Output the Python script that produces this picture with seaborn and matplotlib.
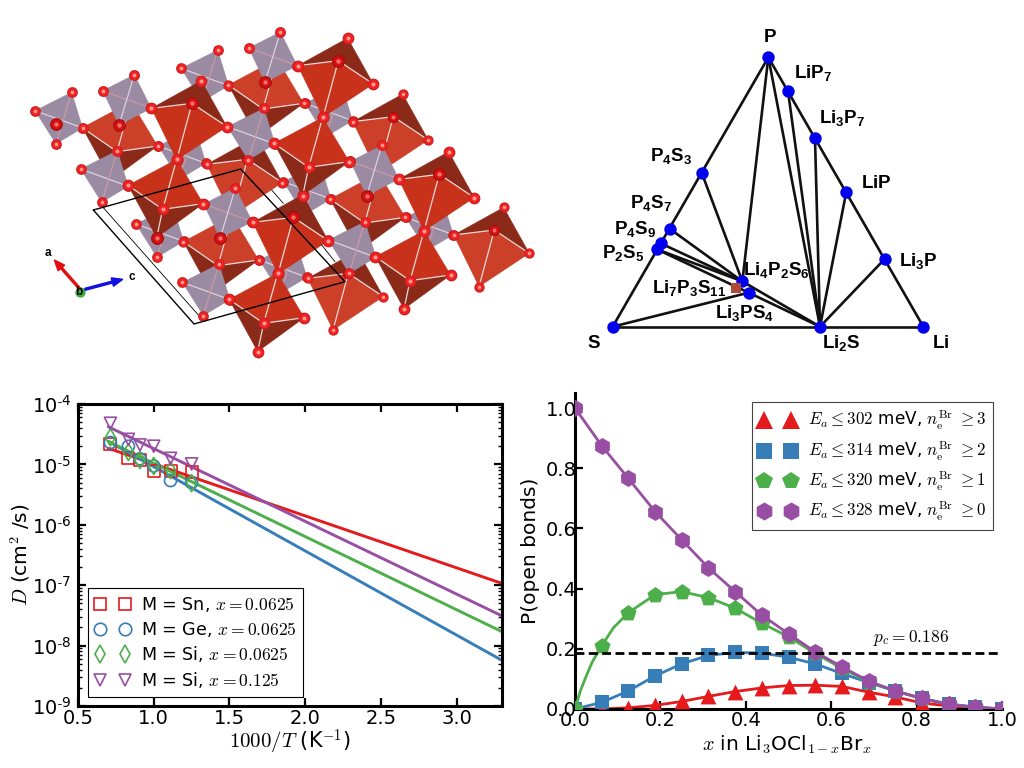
import numpy as np
import matplotlib
matplotlib.use("Agg")
import matplotlib.pyplot as plt
from matplotlib.lines import Line2D
from matplotlib.patches import Polygon, FancyArrow
from matplotlib.ticker import LogLocator, NullFormatter
import seaborn as sns

# ---------- data: diffusivity panel ----------
inv_T = [0.714, 0.833, 0.909, 1.0, 1.111, 1.25]
fit_x = [0.7, 3.3]
d_sn = [2.2e-5, 1.3e-5, 1.18e-5, 7.9e-6, 7.9e-6, 7.4e-6]
d_ge = [2.3e-5, 2.0e-5, 1.24e-5, 9.4e-6, 5.4e-6, 5.0e-6]
d_si = [2.8e-5, 1.6e-5, 1.18e-5, 9.4e-6, 8.0e-6, 4.9e-6]
d_si2 = [4.8e-5, 2.6e-5, 2.1e-5, 2.0e-5, 1.26e-5, 1.02e-5]
fit_sn = [1.85e-5, 1.07e-7]
fit_ge = [2.4e-5, 5.7e-9]
fit_si = [2.4e-5, 1.7e-8]
fit_si2 = [4.2e-5, 3.1e-8]
d_labels = [r"M = Sn, $x = 0.0625$", r"M = Ge, $x = 0.0625$",
            r"M = Si, $x = 0.0625$", r"M = Si, $x = 0.125$"]
d_ticks = [1e-9, 1e-8, 1e-7, 1e-6, 1e-5, 1e-4]
d_ticklabels = [r"$\mathdefault{10^{\text{-}%d}}$" % k for k in (9, 8, 7, 6, 5, 4)]

# ---------- data: percolation panel ----------
x_br = [0, .0625, .125, .1875, .25, .3125, .375, .4375, .5, .5625, .625, .6875, .75, .8125, .875, .9375, 1]
p_0 = [1, .875, .766, .656, .562, .469, .39, .312, .25, .19, .14, .093, .06, .035, .015, .006, 0]
p_1 = [0, .21, .32, .38, .39, .37, .335, .285, .24, .185, .135, .09, .06, .035, .015, .006, 0]
p_2 = [0, .022, .06, .11, .15, .178, .188, .186, .172, .15, .118, .088, .06, .035, .017, .006, 0]
p_3 = [0, 0, .004, .012, .025, .042, .058, .07, .078, .079, .075, .056, .04, .02, .01, .003, 0]
p1_curve_x = [0, .0125, .025, .04, .0625, .09, .125, .1875, .25, .3125, .375, .4375, .5, .5625, .625, .6875, .75, .8125, .875, .9375, 1]
p1_curve_y = [0, .06, .105, .155, .21, .27, .32, .38, .39, .37, .335, .285, .24, .185, .135, .09, .06, .035, .015, .006, 0]
p_labels = [r"$E_a \leq 302$ meV, $n_{\rm e}^{\rm Br}$ $\geq 3$",
            r"$E_a \leq 314$ meV, $n_{\rm e}^{\rm Br}$ $\geq 2$",
            r"$E_a \leq 320$ meV, $n_{\rm e}^{\rm Br}$ $\geq 1$",
            r"$E_a \leq 328$ meV, $n_{\rm e}^{\rm Br}$ $\geq 0$"]
p_c = 0.186

# ---------- data: phase diagram (image coordinates) ----------
phases = {"P": (625, 112), "LiP7": (684, 213), "Li3P7": (765, 354), "LiP": (859, 515),
          "Li3P": (975, 716), "Li": (1090, 920), "Li2S": (780, 920), "S": (158, 920),
          "P4S3": (425, 458), "P4S7": (330, 627), "P4S9": (302, 670), "P2S5": (291, 688),
          "Li4P2S6": (547, 784), "Li3PS4": (566, 818)}
metastable = (527, 805)
tie_lines = [("P", "S"), ("P", "Li"), ("S", "Li"), ("P", "Li4P2S6"), ("P", "Li2S"),
             ("LiP7", "Li2S"), ("Li3P7", "Li2S"), ("LiP", "Li2S"), ("Li3P", "Li2S"),
             ("P4S3", "Li4P2S6"), ("P4S7", "Li4P2S6"), ("P4S9", "Li4P2S6"), ("P2S5", "Li4P2S6"),
             ("P2S5", "Li3PS4"), ("Li4P2S6", "Li2S"), ("Li3PS4", "Li2S"), ("S", "Li3PS4")]
phase_labels = [(r"$\mathbf{P}$", 630, 50), (r"$\mathbf{LiP_7}$", 760, 158), (r"$\mathbf{Li_3P_7}$", 847, 293),
                (r"$\mathbf{P_4S_3}$", 333, 408), (r"$\mathbf{LiP}$", 948, 487), (r"$\mathbf{P_4S_7}$", 272, 548),
                (r"$\mathbf{P_4S_9}$", 226, 628), (r"$\mathbf{P_2S_5}$", 190, 698), (r"$\mathbf{Li_4P_2S_6}$", 650, 750),
                (r"$\mathbf{Li_7P_3S_{11}}$", 388, 805), (r"$\mathbf{Li_3PS_4}$", 555, 878), (r"$\mathbf{Li_3P}$", 1075, 722),
                (r"$\mathbf{S}$", 103, 968), (r"$\mathbf{Li_2S}$", 845, 968), (r"$\mathbf{Li}$", 1143, 968)]

# ---------- data: crystal structure (image coordinates) ----------
near_a = [(955, 122), (516, 250), (1258, 463), (820, 592)]
far_a = [(1120, 290), (1423, 630), (985, 760), (682, 418)]
near_c = [(908, 292), (1212, 632), (470, 418), (773, 760)]
far_c = [(333, 245), (771, 117), (636, 587), (1076, 459)]
grey_back = [(415, 378), (855, 250), (790, 485), (1157, 592), (718, 720), (348, 612), (483, 145)]
grey_front = [(182, 447), (622, 320), (925, 660), (487, 787), (45, 272)]
grey_tilt = [(297, 315), (735, 187), (1040, 527), (600, 655)]
a_shape = dict(T=(28, -68), R=(105, 70), B=(-46, 170), L=(-122, 15))
c_shape = dict(L=(-146, 78), R=(80, 133), F=(-42, 150), B=(-60, 235))
g_shape = [(0, 0), (110, -55), (143, 52), (63, 100)]
t_shape = [(-49, -103), (46, -151), (97, -50), (0, 0)]

sns.set_style("ticks")
plt.rcParams.update({"font.family": ["DejaVu Sans"], "mathtext.fontset": "cm",
                     "mathtext.default": "it", "mathtext.bf": "Liberation Sans:bold",
                     "mathtext.rm": "Liberation Sans", "mathtext.it": "Liberation Sans:italic",
                     "mathtext.cal": "Liberation Sans", "mathtext.tt": "Liberation Sans",
                     "mathtext.sf": "Liberation Sans", "text.color": "black",
                     "axes.labelcolor": "black", "xtick.color": "black", "ytick.color": "black",
                     "axes.edgecolor": "black"})
set1 = sns.color_palette("Set1")
RED, BLUE, GREEN, PURPLE = set1[0], set1[1], set1[2], set1[3]
W, H = 1024, 768
fig = plt.figure(figsize=(W / 100, H / 100), dpi=100, facecolor="white")


def px_axes(l, t, r, b):
    return fig.add_axes([l / W, 1 - b / H, (r - l) / W, (b - t) / H])


# ---------- crystal panel ----------
ax_a = px_axes(20, 20, 540, 370)
ax_a.set_xlim(0, 1560)
ax_a.set_ylim(1050, 0)
ax_a.axis("off")
DARK, BRIGHT, BRIGHT2, GREY = "#8c2a1a", "#c8321a", "#cc3f28", "#9a8aa2"
z = [10]


def poly(pts, color):
    z[0] += 1
    ax_a.add_patch(Polygon(pts, closed=True, fc=color, ec=color, lw=0.3, zorder=z[0]))


def seg(p, q, color="#e8d8d8", lw=0.9):
    z[0] += 1
    ax_a.plot([p[0], q[0]], [p[1], q[1]], color=color, lw=lw, zorder=z[0], solid_capstyle="round")


def balls(pts, s=55, dark=False):
    z[0] += 1
    xs, ys = zip(*pts)
    ax_a.scatter(xs, ys, s=s, c="#a00e0e" if dark else "#cc1c1c", lw=0, zorder=z[0])
    ax_a.scatter(xs, ys, s=s * 0.68, c="#d61010" if dark else "#ee2222", lw=0, zorder=z[0])
    ax_a.scatter(xs, ys, s=s * 0.12, c="#ee7070" if dark else "#ff9a90", lw=0, zorder=z[0])


def octa_a(f, bright, s):
    v = {k: (f[0] + d[0], f[1] + d[1]) for k, d in a_shape.items()}
    poly([v["L"], v["T"], v["R"], f], DARK)
    poly([v["L"], f, v["R"], v["B"]], bright)
    for k in "LRB":
        seg(f, v[k])
    balls([v["T"], v["R"], v["B"], v["L"]], s)
    balls([f], s * 1.2, dark=True)


def octa_c(t, bright, s):
    v = {k: (t[0] + d[0], t[1] + d[1]) for k, d in c_shape.items()}
    poly([v["L"], v["B"], v["R"], v["F"]], DARK)
    poly([v["L"], t, v["R"], v["F"]], bright)
    seg(t, v["F"])
    seg(v["L"], v["F"])
    seg(v["R"], v["F"])
    seg(v["F"], v["B"])
    balls([t, v["L"], v["R"], v["F"], v["B"]], s)


def octa_g(o, shape):
    pts = [(o[0] + d[0], o[1] + d[1]) for d in shape]
    poly(pts, GREY)
    seg(pts[0], pts[2], "#ddd2dd", 0.9)
    seg(pts[1], pts[3], "#c89aa8", 0.9)
    balls(pts, 60)


for o in grey_back:
    octa_g(o, g_shape)
for f in far_a:
    octa_a(f, BRIGHT2, 55)
for t in far_c:
    octa_c(t, BRIGHT2, 55)
for o in grey_front:
    octa_g(o, g_shape)
for b in grey_tilt:
    pts = [(b[0] + d[0], b[1] + d[1]) for d in t_shape]
    poly(pts, GREY)
    seg(pts[0], pts[2], "#c89aa8", 0.9)
    seg(pts[1], pts[3], "#ddd2dd", 0.9)
    balls(pts[:3], 62)
    balls([b], 85, dark=True)
for f in near_a:
    octa_a(f, BRIGHT, 72)
for t in near_c:
    octa_c(t, BRIGHT, 72)
balls([(107, 312), (410, 655)], 85, dark=True)

ax_a.plot([220, 662, 975, 522, 220], [570, 447, 785, 912, 570], color="black", lw=1.0, zorder=z[0] + 1)
for p, q in [((250, 563), (535, 885)), ((755, 510), (790, 550)), ((905, 675), (945, 725))]:
    ax_a.plot([p[0], q[0]], [p[1], q[1]], color="black", lw=0.6, zorder=z[0] + 1)
ax_a.scatter([180], [815], s=55, c="#3fae3f", lw=0, zorder=z[0] + 1)
ax_a.add_patch(FancyArrow(178, 805, -75, -85, width=6, head_width=26, head_length=32,
                          length_includes_head=True, fc="#e01010", ec="#e01010", zorder=z[0] + 2))
ax_a.add_patch(FancyArrow(195, 808, 113, -30, width=6, head_width=26, head_length=32,
                          length_includes_head=True, fc="#1010e0", ec="#1010e0", zorder=z[0] + 2))
for s_, x_, y_ in [("a", 85, 698), ("b", 177, 815), ("c", 336, 770)]:
    ax_a.text(x_, y_, s_, family="Liberation Sans", weight="bold", fontsize=8.5,
              ha="center", va="center", zorder=z[0] + 3)

# ---------- phase diagram ----------
ax_b = px_axes(560, 20, 960, 360)
ax_b.set_xlim(0, 1200)
ax_b.set_ylim(1020, 0)
ax_b.axis("off")
for a_, b_ in tie_lines:
    sns.lineplot(x=[phases[a_][0], phases[b_][0]], y=[phases[a_][1], phases[b_][1]], ax=ax_b,
                 color="#111111", lw=1.9, sort=False, estimator=None, errorbar=None, zorder=2)
names = list(phases)
sns.scatterplot(x=[phases[n][0] for n in names], y=[phases[n][1] for n in names], ax=ax_b,
                color="#0000ee", s=80, linewidth=0, zorder=3)
sns.scatterplot(x=[metastable[0]], y=[metastable[1]], ax=ax_b, marker="s",
                color="#b04a33", s=50, linewidth=0, zorder=4)
for s_, x_, y_ in phase_labels:
    ax_b.text(x_, y_, s_, fontsize=13.5, ha="center", va="center", math_fontfamily="custom", zorder=5)

# ---------- diffusivity panel ----------
ax_c = px_axes(78, 404, 502, 706)
series_c = [(d_sn, fit_sn, RED, "s"), (d_ge, fit_ge, BLUE, "o"), (d_si, fit_si, GREEN, "d"), (d_si2, fit_si2, PURPLE, "v")]
for vals, fit, col, mk in series_c:
    sns.lineplot(x=fit_x, y=fit, ax=ax_c, color=col, lw=2.1, sort=False, estimator=None, errorbar=None, zorder=2)
for vals, fit, col, mk in series_c:
    sns.scatterplot(x=inv_T, y=vals, ax=ax_c, marker=mk, s=75, facecolor="none",
                    edgecolor=col, linewidth=1.2, zorder=3)
ax_c.set_yscale("log")
ax_c.set_xlim(0.5, 3.3)
ax_c.set_ylim(1e-9, 1e-4)
ax_c.set_xticks([0.5, 1.0, 1.5, 2.0, 2.5, 3.0])
ax_c.set_yticks(d_ticks, d_ticklabels)
ax_c.yaxis.set_minor_locator(LogLocator(base=10, subs=np.arange(2, 10) * 0.1, numticks=12))
ax_c.yaxis.set_minor_formatter(NullFormatter())
ax_c.tick_params(which="major", direction="in", top=True, right=True, length=6, width=1.6, labelsize=14)
ax_c.tick_params(axis="x", which="major", pad=2)
ax_c.tick_params(axis="y", which="major", pad=5)
ax_c.tick_params(which="minor", direction="in", left=True, right=True, length=3, width=1.0)
for sp in ax_c.spines.values():
    sp.set_linewidth(2.2)
ax_c.set_xlabel(r"$1000/T$ (K$^{-1}$)", fontsize=15, va="center")
ax_c.set_ylabel(r"$D$ (cm$^{2}$ /s)", fontsize=14.5, va="center")
ax_c.xaxis.set_label_coords(0.5, -0.122)
ax_c.yaxis.set_label_coords((20 - 78) / 424, 0.5)
handles = [Line2D([], [], ls="none", marker=m, mfc="none", mec=c, mew=1.2, ms=9)
           for c, m in zip([RED, BLUE, GREEN, PURPLE], "sodv")]
leg = ax_c.legend(handles, d_labels, numpoints=2, loc="lower left", bbox_to_anchor=(0.024, 0.03),
                  borderaxespad=0, fontsize=12.6, frameon=True, fancybox=False, edgecolor="black",
                  framealpha=1, labelspacing=0.32, handletextpad=0.6, handlelength=2.0)
leg.get_frame().set_linewidth(0.8)

# ---------- percolation panel ----------
ax_d = px_axes(575, 393, 1002, 709)
sns.lineplot(x=x_br, y=p_3, ax=ax_d, color=RED, lw=2, sort=False, estimator=None, errorbar=None, zorder=2)
sns.scatterplot(x=x_br, y=p_3, ax=ax_d, color=RED, marker="^", s=130, linewidth=0, zorder=3)
sns.lineplot(x=x_br, y=p_2, ax=ax_d, color=BLUE, lw=2, sort=False, estimator=None, errorbar=None, zorder=4)
sns.scatterplot(x=x_br, y=p_2, ax=ax_d, color=BLUE, marker="s", s=110, linewidth=0, zorder=5)
sns.lineplot(x=p1_curve_x, y=p1_curve_y, ax=ax_d, color=GREEN, lw=2, sort=False, estimator=None, errorbar=None, zorder=6)
sns.scatterplot(x=x_br, y=p_1, ax=ax_d, color=GREEN, marker="p", s=150, linewidth=0, zorder=7)
sns.lineplot(x=x_br, y=p_0, ax=ax_d, color=PURPLE, lw=2, sort=False, estimator=None, errorbar=None, zorder=8)
sns.scatterplot(x=x_br, y=p_0, ax=ax_d, color=PURPLE, marker="h", s=150, linewidth=0, zorder=9)
ax_d.axhline(p_c, color="black", lw=2, ls=(0, (3.2, 1.6)), zorder=10)
ax_d.text(0.787, 0.236, r"$p_c = 0.186$", fontsize=12.5, ha="center", va="center")
ax_d.set_xlim(0, 1)
ax_d.set_ylim(0, 1.05)
ax_d.set_xticks([0, .2, .4, .6, .8, 1.0])
ax_d.set_yticks([0, .2, .4, .6, .8, 1.0])
ax_d.tick_params(direction="in", top=False, right=False, length=6, width=1.6, labelsize=14)
ax_d.tick_params(axis="x", pad=1.5)
ax_d.tick_params(axis="y", pad=-1)
ax_d.spines["top"].set_visible(False)
ax_d.spines["right"].set_visible(False)
ax_d.spines["left"].set_linewidth(2.2)
ax_d.spines["bottom"].set_linewidth(2.2)
ax_d.set_xlabel(r"$x$ in Li$_3$OCl$_{1-x}$Br$_x$", fontsize=14.5, va="center")
ax_d.set_ylabel("P(open bonds)", fontsize=14.5, va="center")
ax_d.xaxis.set_label_coords(0.497, -0.114)
ax_d.yaxis.set_label_coords(-0.105, 0.5)
handles = [Line2D([], [], ls="none", marker=m, color=c, mew=0, ms=ms)
           for c, m, ms in zip([RED, BLUE, GREEN, PURPLE], "^sph", [13, 12, 13, 13])]
leg = ax_d.legend(handles, p_labels, numpoints=2, loc="upper right", bbox_to_anchor=(0.98, 0.97),
                  borderaxespad=0, fontsize=12.2, frameon=True, fancybox=False, edgecolor="#444444",
                  framealpha=1, labelspacing=0.42, handletextpad=0.7, handlelength=2.2)
leg.get_frame().set_linewidth(0.8)
leg.set_zorder(20)

fig.savefig("out.png", dpi=100)
